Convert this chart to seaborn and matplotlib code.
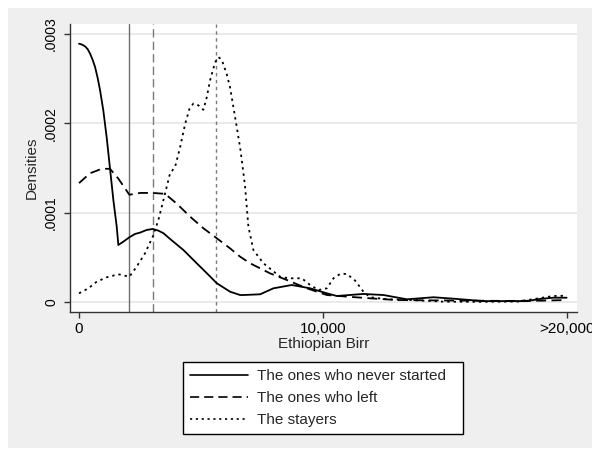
import numpy as np
import pandas as pd
import matplotlib
matplotlib.use("Agg")
import matplotlib.pyplot as plt
from matplotlib.patches import Rectangle
from matplotlib.lines import Line2D
import seaborn as sns

# Kernel density estimates of income (Ethiopian Birr), by group
never_x = [0, 120, 246, 351, 451, 557, 657, 762, 862, 998, 1135, 1272, 1409, 1546,
           1613, 1819, 2065, 2298, 2503, 2777, 3024, 3256, 3460, 3800, 4280, 4828,
           5250, 5650, 6196, 6606, 6742, 7427, 7973, 8727, 9479, 10164, 10574, 11666,
           12487, 13447, 14540, 15500, 16577, 18370, 18917, 19450, 20000]
never_y = [0.000289, 0.000288, 0.000286, 0.000283, 0.000278, 0.000271, 0.000263,
           0.000251, 0.000237, 0.000214, 0.000184, 0.000149, 0.000114, 0.0000843,
           0.0000638, 0.0000675, 0.0000724, 0.0000761, 0.0000776, 0.0000806, 0.0000817,
           0.0000798, 0.0000770, 0.0000690, 0.0000582, 0.0000433,
           0.0000320, 0.0000210, 0.0000115, 0.0000078, 0.0000078, 0.0000086, 0.0000153,
           0.0000190, 0.0000153, 0.0000097, 0.0000067, 0.0000090,
           0.0000078, 0.0000030, 0.0000053, 0.0000034, 0.0000010, 0.0000010, 0.0000034,
           0.0000048, 0.0000048]

left_x = [0, 451, 931, 1272, 1613, 2065, 2503, 3024, 3529, 4009, 4555, 5100, 5650,
          6196, 6606, 7017, 7838, 8523, 9344, 10164, 10985, 11941, 13036, 14500,
          16000, 17500, 19000, 20000]
left_y = [0.000133, 0.000144, 0.000149, 0.000149, 0.000138, 0.000120, 0.000122,
          0.000122, 0.000121, 0.000110, 0.0000955, 0.0000825, 0.0000713, 0.0000600,
          0.0000507, 0.0000433, 0.0000320, 0.0000246, 0.0000153, 0.0000078, 0.0000060,
          0.0000041, 0.0000022, 0.0000018, 0.0000015, 0.0000012, 0.0000015, 0.0000022]

stay_x = [0, 383, 726, 1135, 1613, 2065, 2366, 2708, 3024, 3256, 3461, 3734, 3939,
          4145, 4350, 4528, 4692, 4897, 5100, 5239, 5375, 5580, 5716, 5853, 6058,
          6196, 6401, 6606, 6675, 6812, 6947, 7152, 7563, 8248, 8590, 9138, 9479,
          9822, 10164, 10436, 10710, 10985, 11325, 11666, 11941, 12624, 13582,
          15000, 16500, 18000, 19450, 20000]
stay_y = [0.0000097, 0.0000153, 0.0000227, 0.0000276, 0.0000310, 0.0000283, 0.0000396,
          0.0000545, 0.0000731, 0.0000918, 0.000114, 0.000144, 0.000151,
          0.000173, 0.000199, 0.000216, 0.000222, 0.000220, 0.000215, 0.000229,
          0.000248, 0.000268, 0.000274, 0.000271, 0.000255,
          0.000240, 0.000207, 0.000173, 0.000159, 0.000129, 0.0000843, 0.0000582,
          0.0000433, 0.0000283, 0.0000265, 0.0000265, 0.0000190,
          0.0000134, 0.0000153, 0.0000265, 0.0000314, 0.0000314, 0.0000239, 0.0000115,
          0.0000053, 0.0000030, 0.0000022,
          0.0000003, 0.0000002, 0.0000005, 0.0000067, 0.0000070]

# Group medians shown as reference lines
medians = [2050, 3040, 5620]

labels = ["The ones who never started", "The ones who left", "The stayers"]
x_ticks = [0, 10000, 20000]
x_ticklabels = ["0", "10,000", ">20,000"]
y_ticks = [0, 0.0001, 0.0002, 0.0003]
y_ticklabels = ["0", ".0001", ".0002", ".0003"]

sns.set_style("white")
plt.rcParams["font.family"] = ["Liberation Sans", "DejaVu Sans"]
plt.rcParams["font.size"] = 11

fig = plt.figure(figsize=(5.92, 4.5), dpi=100)
fig.patch.set_facecolor("white")
# light grey graph region behind the plot area
fig.patches.append(Rectangle((8 / 592, 2 / 450), 584 / 592, 440 / 450,
                             transform=fig.transFigure, facecolor="#efefef",
                             edgecolor="none", zorder=-5))

ax = fig.add_axes([70 / 592, 1 - 312 / 450, 507 / 592, 288 / 450])
ax.set_zorder(1)
ax.set_facecolor("white")

styles = ["-", (0, (5.5, 3.0)), (0, (1.3, 2.2))]
vstyles = ["-", (0, (6, 3)), (0, (2.5, 2.5))]
vcolors = ["#6e6e6e", "#7a7a7a", "#7a7a7a"]

for y in y_ticks:
    ax.axhline(y, color="#e6e6e6", lw=1.2, zorder=0)

for m, ls, c in zip(medians, vstyles, vcolors):
    ax.axvline(m, color=c, lw=1.0, linestyle=ls, zorder=1)

series = [(never_x, never_y), (left_x, left_y), (stay_x, stay_y)]
for (xs, ys), ls, lab in zip(series, styles, labels):
    df = pd.DataFrame({"birr": xs, "density": ys})
    sns.lineplot(data=df, x="birr", y="density", ax=ax, color="black",
                 linestyle=ls, linewidth=1.3, zorder=3, legend=False)

ax.set_xlim(-370, 20425)
ax.set_ylim(-0.0000112, 0.000311)
ax.set_xticks(x_ticks)
ax.set_xticklabels(x_ticklabels)
ax.set_yticks(y_ticks)
ax.set_yticklabels(y_ticklabels, rotation=90, va="center")
ax.tick_params(axis="x", direction="out", length=4.5, width=1, color="#333333",
               labelsize=11, pad=2.7, labelcolor="black", bottom=True)
ax.tick_params(axis="y", direction="out", length=4.5, width=1, color="#333333",
               labelsize=10, pad=4, labelcolor="black", left=True)

for s in ["top", "right"]:
    ax.spines[s].set_visible(False)
for s in ["left", "bottom"]:
    ax.spines[s].set_color("#333333")
    ax.spines[s].set_linewidth(1.0)

ax.set_xlabel("Ethiopian Birr", fontsize=11, labelpad=1)
ax.set_ylabel("Densities", fontsize=11)
ax.yaxis.set_label_coords(-0.062, 0.5)

handles = [Line2D([], [], color="black", linestyle=ls, linewidth=1.2) for ls in styles]
leg = fig.legend(handles, labels, loc="lower left",
                 bbox_to_anchor=(183 / 592, 1 - 434 / 450, 280 / 592, 72 / 450),
                 mode="expand", borderaxespad=0, fontsize=11, handlelength=3.8,
                 handletextpad=0.6, labelspacing=0.52, borderpad=0.45,
                 fancybox=False, framealpha=1, edgecolor="black")
leg.get_frame().set_linewidth(1.0)

fig.savefig("out.png", dpi=100)
